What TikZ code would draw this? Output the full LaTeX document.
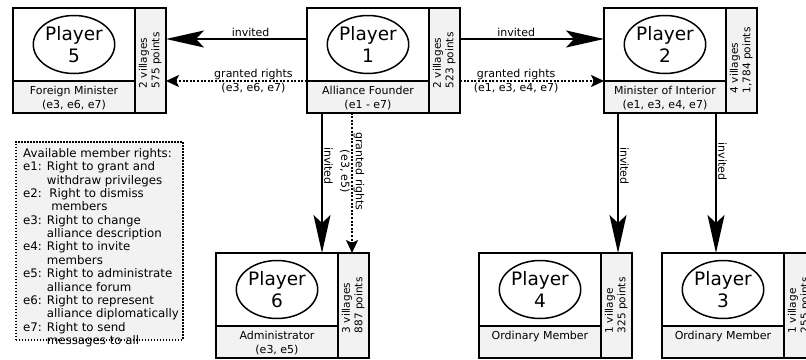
\documentclass[tikz,border=0pt]{standalone}
\usepackage{fontspec}
\setmainfont{DejaVu Sans}
\usetikzlibrary{arrows.meta,shapes.geometric}
\definecolor{cardgray}{HTML}{F2F2F2}

\tikzset{
  cardpart/.style={draw, line width=2pt, inner sep=0pt, outer sep=0pt, anchor=north west},
  cardtop/.style={cardpart, fill=white, minimum width=121.5pt, minimum height=73pt},
  cardrole/.style={cardpart, fill=cardgray, minimum width=121.5pt, minimum height=31.5pt},
  cardside/.style={cardpart, fill=cardgray, minimum width=31.5pt, minimum height=104.5pt},
  playerbubble/.style={ellipse, draw, line width=1.5pt, fill=white, minimum width=79pt,
    minimum height=58pt, inner sep=0pt, align=center, font=\fontsize{18.5}{22}\selectfont},
  roletext/.style={anchor=north, align=center, inner sep=0pt, font=\fontsize{11}{14}\selectfont},
  sidetext/.style={rotate=90, align=left, inner sep=0pt, font=\fontsize{10.5}{12.5}\selectfont},
  invite/.style={line width=1.6pt, -{Stealth[length=38pt, width=17pt, inset=8pt]}},
  grant/.style={line width=2pt, dash pattern=on 2pt off 1.6pt,
    -{Stealth[length=13pt, width=12pt, inset=3pt]}},
  edgelabel/.style={font=\fontsize{11}{14.5}\selectfont, inner sep=1.5pt},
  legendframe/.style={draw, line width=1.5pt, dash pattern=on 1.5pt off 1.5pt, fill=cardgray,
    anchor=north west, minimum width=167pt, minimum height=198pt, inner sep=0pt},
  legendline/.style={anchor=base west, inner sep=0pt, font=\fontsize{11.8}{13.4}\selectfont},
}

% player card: #1 name, #2 left, #3 top, #4 number, #5 role, #6 villages/points
\newcommand\playercard[6]{%
  \node[cardtop] (#1t) at (#2,#3) {};
  \node[cardrole] (#1r) at (#2,#3+73) {};
  \node[cardside] (#1s) at (#2+121.5,#3) {};
  \node[playerbubble] (#1e) at (#2+61,#3+36.5) {Player\\#4};
  \node[roletext] (#1l) at (#2+61,#3+77.5) {#5};
  \node[sidetext] (#1v) at (#2+137.25,#3+52.25) {#6};
}

\begin{document}
\begin{tikzpicture}[x=1pt, y=-1pt]
\useasboundingbox (0,0) rectangle (806,359);
\fill[white] (0,0) rectangle (806,359);
\clip (0,0) rectangle (806,359);

\playercard{p5}{13}{8}{5}{Foreign Minister\\(e3, e6, e7)}{2 villages\\575 points}
\playercard{p1}{307}{8}{1}{Alliance Founder\\(e1 - e7)}{2 villages\\523 points}
\playercard{p2}{604}{8}{2}{Minister of Interior\\(e1, e3, e4, e7)}{4 villages\\1,784 points}
\playercard{p6}{216}{253}{6}{Administrator\\(e3, e5)}{3 villages\\887 points}
\playercard{p4}{479}{253}{4}{Ordinary Member}{1 village\\325 points}
\playercard{p3}{662}{253}{3}{Ordinary Member}{1 village\\255 points}

% horizontal links from the founder
\coordinate (inv1) at ([yshift=5.5pt]p1t.west);
\draw[invite] (inv1) -- (inv1 -| p5s.east)
  node[edgelabel, above, pos=0.40] {invited};
\draw[grant] (p1r.north west) -- (p1r.north west -| p5s.east)
  node[edgelabel, align=center, pos=0.38] {granted rights\\(e3, e6, e7)};
\draw[invite] (p1s.east |- inv1) -- (inv1 -| p2t.west)
  node[edgelabel, above, pos=0.39] {invited};
\draw[grant] (p1s.east |- p1r.north west) -- (p2r.north west)
  node[edgelabel, align=center, pos=0.39] {granted rights\\(e1, e3, e4, e7)};

% vertical links down to the second row
\coordinate (d6) at ([xshift=15pt]p1r.south west);
\coordinate (g6) at ([xshift=45pt]p1r.south west);
\coordinate (d4) at ([xshift=14pt]p2r.south west);
\coordinate (d3) at ([xshift=112pt]p2r.south west);
\draw[invite] (d6) -- (d6 |- p6t.north)
  node[edgelabel, rotate=-90, anchor=south, pos=0.38] {invited};
\draw[grant] (g6) -- (g6 |- p6s.north)
  node[edgelabel, rotate=-90, align=center, pos=0.42] {granted rights\\(e3, e5)};
\draw[invite] (d4) -- (d4 |- p4s.north)
  node[edgelabel, rotate=-90, anchor=south, pos=0.38] {invited};
\draw[invite] (d3) -- (d3 |- p3t.north)
  node[edgelabel, rotate=-90, anchor=south, pos=0.35] {invited};

% legend of member rights, one line per node
\node[legendframe] (legend) at (15,141) {};
\foreach \txt [count=\i] in {
  Available member rights:,
  e1: Right to grant and,
  \phantom{e1: }withdraw privileges,
  e2:\ \ Right to dismiss,
  \phantom{e2:\ \ \,}members,
  e3: Right to change,
  \phantom{e3: }alliance description,
  e4: Right to invite,
  \phantom{e4: }members,
  e5: Right to administrate,
  \phantom{e5: }alliance forum,
  e6: Right to represent,
  \phantom{e6: }alliance diplomatically,
  e7: Right to send,
  \phantom{e7: }messages to all}
  \node[legendline] (legend\i) at (23,157.5+13.35*\i-13.35) {\txt};
\end{tikzpicture}
\end{document}
